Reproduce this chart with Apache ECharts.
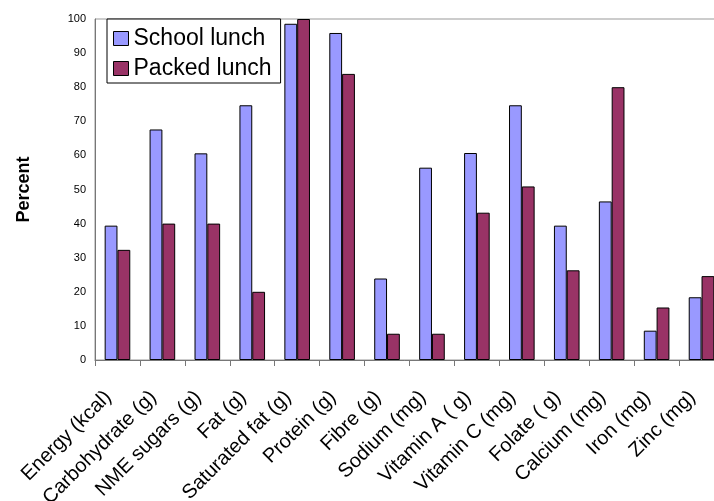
<!DOCTYPE html>
<html><head><meta charset="utf-8">
<script src="https://cdn.jsdelivr.net/npm/echarts@6/dist/echarts.min.js"></script>
<style>html,body{margin:0;padding:0;background:#fff}#c{width:714px;height:501px}</style>
</head><body><div id="c"></div>
<script>
const categories = ['Energy (kcal)','Carbohydrate (g)','NME sugars (g)','Fat (g)','Saturated fat (g)','Protein (g)','Fibre (g)','Sodium (mg)','Vitamin A ( g)','Vitamin C (mg)','Folate ( g)','Calcium (mg)','Iron (mg)','Zinc (mg)'];
const schoolLunch = [39.4, 67.6, 60.6, 74.7, 98.6, 95.9, 23.9, 56.4, 60.7, 74.7, 39.4, 46.5, 8.6, 18.4];
const packedLunch = [32.3, 40, 40, 20, 100, 83.9, 7.7, 7.7, 43.2, 50.9, 26.3, 80, 15.4, 24.6];
const yTicks = {min: 0, max: 100, interval: 10};

const chart = echarts.init(document.getElementById('c'), null, {renderer: 'canvas'});
const font = 'Liberation Sans, Arial, sans-serif';
chart.setOption({
  animation: false,
  backgroundColor: '#fff',
  textStyle: {fontFamily: font},
  grid: {left: 95, top: 19, width: 629, height: 341, show: true, borderColor: '#999', borderWidth: 1,
         containLabel: false, outerBoundsMode: 'none'},
  legend: {
    orient: 'vertical', left: 107, top: 19,
    padding: [8, 9, 3, 6], itemGap: 7,
    itemWidth: 15, itemHeight: 14,
    backgroundColor: '#fff', borderColor: '#000', borderWidth: 1,
    textStyle: {fontSize: 23, color: '#000', fontFamily: font},
    data: [
      {name: 'School lunch', icon: 'rect', itemStyle: {borderColor: '#000', borderWidth: 1}},
      {name: 'Packed lunch', icon: 'rect', itemStyle: {borderColor: '#000', borderWidth: 1}}
    ]
  },
  xAxis: {
    type: 'category', data: categories,
    axisLine: {lineStyle: {color: '#777', width: 1}},
    axisTick: {show: true, length: 6, lineStyle: {color: '#777'}},
    axisLabel: {rotate: 45, fontSize: 20, color: '#000', fontFamily: font, margin: 25, interval: 0,
                padding: [0, 13, 0, 0]}
  },
  yAxis: {
    type: 'value', min: yTicks.min, max: yTicks.max, interval: yTicks.interval,
    name: 'Percent', nameLocation: 'middle', nameGap: 62, nameRotate: 90,
    nameTextStyle: {fontSize: 18, fontWeight: 'bold', color: '#000', fontFamily: font},
    axisLine: {show: true, lineStyle: {color: '#777', width: 1}},
    axisTick: {show: false},
    splitLine: {show: false},
    axisLabel: {fontSize: 11, color: '#000', fontFamily: font, margin: 9}
  },
  series: [
    {name: 'School lunch', type: 'bar', data: schoolLunch, barGap: '0%', barCategoryGap: '43%',
     itemStyle: {color: '#9999FF', borderColor: '#000', borderWidth: 1}},
    {name: 'Packed lunch', type: 'bar', data: packedLunch, barGap: '0%', barCategoryGap: '43%',
     itemStyle: {color: '#993366', borderColor: '#000', borderWidth: 1}}
  ]
});
</script></body></html>
